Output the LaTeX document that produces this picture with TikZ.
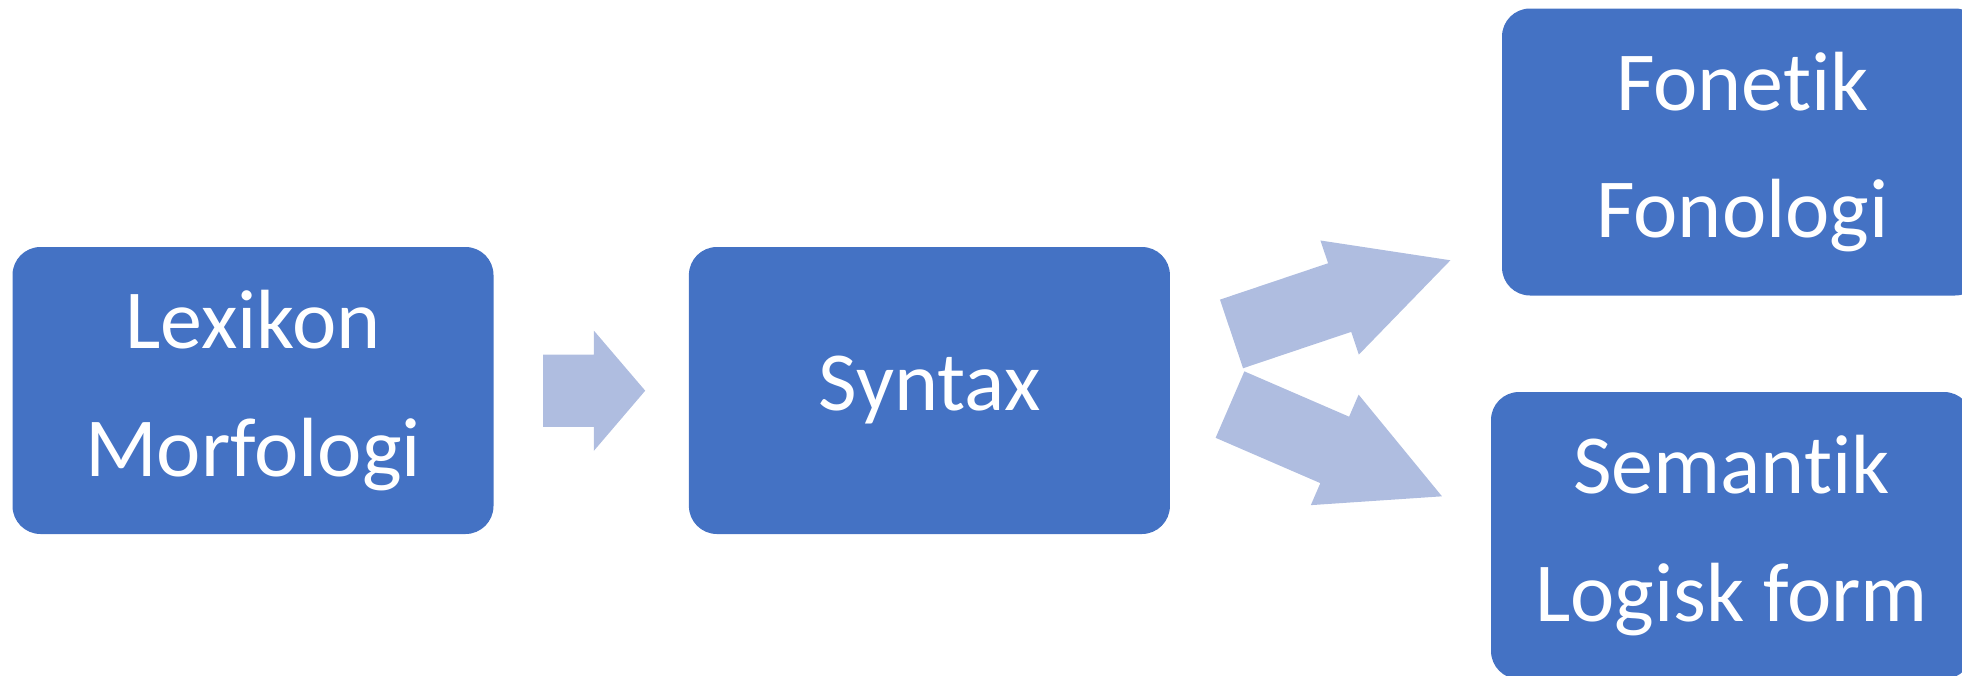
\documentclass[tikz,border=0pt]{standalone}
\usepackage{fontspec}
\setmainfont{Carlito}[Ligatures=NoCommon, Contextuals=NoAlternate]
\usetikzlibrary{shapes.arrows, positioning}
\definecolor{boxblue}{HTML}{4472C4}
\definecolor{arrowblue}{HTML}{AFBDE0}
\newcommand{\tisep}{\kern0pt} % keeps t and i apart (no ti ligature)
\tikzset{
x=1pt, y=-1pt, % one unit for each pixel, y going down
block/.style={rectangle, rounded corners=28pt, fill=boxblue, text=white,
  minimum width=481pt, minimum height=287pt, inner sep=0pt, align=center,
  font=\fontsize{84}{127.4}\selectfont}, % the blue boxes
flow/.style={single arrow, fill=arrowblue, draw=none, inner xsep=0pt, inner ysep=36pt,
  minimum width=120pt, single arrow head extend=24pt, anchor=tail}, % the pale block arrows
}

\begin{document}
\begin{tikzpicture}
                \useasboundingbox (0,0) rectangle (1962,675);
                \node[block] (lexikon) at (253,390.5) {Lexikon\\Morfologi};
                \node[block, right=195pt of lexikon] (syntax) {Syntax};
                \node[block] (fonetik) at (1742.5,152) {Fonet\tisep ik\\Fonologi};
                \node[block] (semantik) at (1731.5,535.5) {Semant\tisep ik\\Logisk form};

                \node[flow, minimum height=102pt, single arrow tip angle=99] (lexsyn) at (543,390.7) {};
                \node[flow, minimum height=231pt, single arrow tip angle=54.5, rotate=18.6] (synfon) at (1231.3,334) {};
                \node[flow, minimum height=231pt, single arrow tip angle=54.5, rotate=-23.4] (synsem) at (1229.8,404.5) {};
\end{tikzpicture}
\end{document}
